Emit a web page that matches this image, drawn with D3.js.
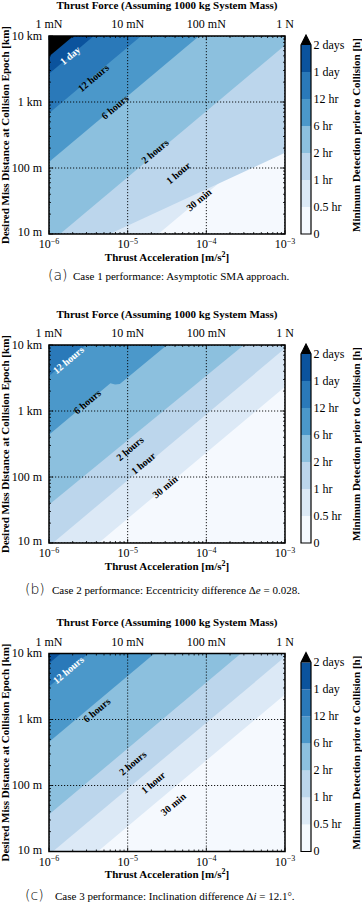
<!DOCTYPE html>
<html>
<head>
<meta charset="utf-8">
<script src="https://cdn.jsdelivr.net/npm/d3@7"></script>
<style>
  body { margin: 0; background: #fff; }
  svg { display: block; }
  text { font-family: "Liberation Serif", "DejaVu Serif", serif; fill: #000; }
</style>
</head>
<body>
<div id="chart"></div>
<script>
// ---- data ----
const accelTicks = [1e-6, 1e-5, 1e-4, 1e-3];
const accelExp = ["\u22126", "\u22125", "\u22124", "\u22123"];
const forceLabels = ["1 mN", "10 mN", "100 mN", "1 N"];
const distTicks = [10, 100, 1000, 10000];
const distLabels = ["10 m", "100 m", "1 km", "10 km"];

const levelHours = [0, 0.5, 1, 2, 6, 12, 24, 48];
const levelLabels = ["0", "0.5 hr", "1 hr", "2 hr", "6 hr", "12 hr", "1 day", "2 days"];
const bandColors = ["#f5f9fe", "#dce9f6", "#bcd6ec", "#8cc0de", "#4b98ca", "#2a79b9", "#0b539d"];
const overColor = "#000000";

// contour boundaries: level (h) -> polyline of [acceleration m/s^2, distance m]
const case1Bounds = [
    [0.5, [[2.45e-5, 10], [1e-3, 407]]],
    [1,   [[5.9e-6, 10], [1e-3, 170]]],
    [2,   [[1.38e-6, 10], [1e-3, 7240]]],
    [6,   [[1e-6, 123], [8.1e-5, 10000]]],
    [12,  [[1e-6, 676], [1.48e-5, 10000]]],
    [24,  [[1e-6, 2690], [3.7e-6, 10000]]],
    [48,  [[1e-6, 4900], [2.04e-6, 10000]]]
];
const case2Bounds = [
    [0.5, [[4.27e-6, 10], [1e-3, 2340]]],
    [1,   [[1.12e-6, 10], [1e-3, 8910]]],
    [2,   [[1e-6, 38], [3.0e-4, 10000]]],
    [6,   [[1e-6, 437], [6.03e-6, 2630], [6.92e-6, 2510], [7.94e-6, 2570], [3.16e-5, 10000]]],
    [12,  [[1e-6, 3390], [2.95e-6, 10000]]]
];
const case3Bounds = [
    [0.5, [[4.17e-6, 10], [1e-3, 2400]]],
    [1,   [[1.12e-6, 10], [1e-3, 8910]]],
    [2,   [[1e-6, 36.3], [2.75e-4, 10000]]],
    [6,   [[1e-6, 457], [2.19e-5, 10000]]],
    [12,  [[1e-6, 3160], [3.16e-6, 10000]]],
    [24,  [[1e-6, 7080], [1.41e-6, 10000]]]
];

// inline contour labels: text, acceleration, distance, white?
const case1Labels = [
    ["1 day", 1.85e-6, 5070, true],
    ["12 hours", 3.66e-6, 2310, false],
    ["6 hours", 6.9e-6, 840, false],
    ["2 hours", 2.22e-5, 179, false],
    ["1 hour", 4.4e-5, 84, false],
    ["30 min", 8.05e-5, 33, false]
];
const case2Labels = [
    ["12 hours", 1.76e-6, 5930, true],
    ["6 hours", 3.07e-6, 1380, false],
    ["2 hours", 1.07e-5, 270, false],
    ["1 hour", 1.58e-5, 161, false],
    ["30 min", 2.98e-5, 71, false]
];
const case3Labels = [
    ["12 hours", 1.76e-6, 5650, true],
    ["6 hours", 4.04e-6, 1390, false],
    ["2 hours", 1.16e-5, 219, false],
    ["1 hour", 2.11e-5, 111, false],
    ["30 min", 3.8e-5, 52, false]
];

const captions = [
    ["(a)", [["Case 1 performance: Asymptotic SMA approach.", false]]],
    ["(b)", [["Case 2 performance: Eccentricity difference \u0394", false], ["e", true], [" = 0.028.", false]]],
    ["(c)", [["Case 3 performance: Inclination difference \u0394", false], ["i", true], [" = 12.1\u00b0.", false]]]
];

// ---- layout ----
let win_width = 362, win_height = 907;
let panelTop = [0, 309, 617.5];
let captionY = [280, 594, 900];
let captionX = [[48, 73], [25, 52], [25, 55]];
let margin = {top: 36, left: 49};
let width = 236, height = 198;

let svg = d3.select("#chart")
    .append("svg")
    .attr("width", win_width)
    .attr("height", win_height);

let x = d3.scaleLog().domain([1e-6, 1e-3]).range([0, width]);
let y = d3.scaleLog().domain([10, 1e4]).range([height, 0]);

function drawPanel(p, bounds, labels) {
    let root = svg.append("g").attr("transform", "translate(0," + panelTop[p] + ")");
    let g = root.append("g").attr("transform", "translate(" + margin.left + "," + margin.top + ")");

    let clipId = "clip" + p;
    g.append("clipPath").attr("id", clipId)
        .append("rect").attr("width", width).attr("height", height);

    let plot = g.append("g").attr("clip-path", "url(#" + clipId + ")");

    // base band
    plot.append("rect").attr("width", width).attr("height", height).attr("fill", bandColors[0]);

    // filled regions above each contour level
    let line = d3.line().x(d => x(d[0])).y(d => y(d[1]));
    bounds.forEach(function(b) {
        let lvl = levelHours.indexOf(b[0]);
        let pts = b[1];
        let first = pts[0], last = pts[pts.length - 1];
        let poly = pts.concat([[last[0], 1e7], [1e-9, 1e7], [1e-9, first[1]]]);
        plot.append("path")
            .attr("d", line(poly) + "Z")
            .attr("fill", lvl < bandColors.length ? bandColors[lvl] : overColor);
    });

    // grid
    plot.selectAll(".vgrid")
        .data(accelTicks)
        .join("line")
        .attr("x1", d => x(d)).attr("x2", d => x(d))
        .attr("y1", 0).attr("y2", height)
        .attr("stroke", "#000").attr("stroke-width", 0.9)
        .attr("stroke-dasharray", "1.2,1.8");
    plot.selectAll(".hgrid")
        .data(distTicks)
        .join("line")
        .attr("y1", d => y(d)).attr("y2", d => y(d))
        .attr("x1", 0).attr("x2", width)
        .attr("stroke", "#000").attr("stroke-width", 0.9)
        .attr("stroke-dasharray", "1.2,1.8");

    // contour labels
    let angle = Math.atan2(y(1e3) - y(10), x(1e-4) - x(1e-6)) * 180 / Math.PI;
    plot.selectAll(".clabel")
        .data(labels)
        .join("text")
        .attr("transform", d => "translate(" + x(d[1]) + "," + y(d[2]) + ") rotate(" + angle + ")")
        .attr("text-anchor", "middle")
        .attr("dy", "0.35em")
        .style("font-size", "10px")
        .style("font-weight", "bold")
        .style("fill", d => d[3] ? "#fff" : "#000")
        .text(d => d[0]);

    // minor + major ticks, inside, on all four sides
    let minorA = [], minorD = [];
    for (let e = -6; e < -3; e++) for (let m = 2; m < 10; m++) minorA.push(m * Math.pow(10, e));
    for (let e = 1; e < 4; e++) for (let m = 2; m < 10; m++) minorD.push(m * Math.pow(10, e));
    let ticks = g.append("g").attr("stroke", "#000").attr("stroke-width", 0.8);
    [[minorA, 2], [accelTicks, 4]].forEach(function(t) {
        ticks.selectAll(null).data(t[0]).join("line")
            .attr("x1", d => x(d)).attr("x2", d => x(d)).attr("y1", height).attr("y2", height - t[1]);
        ticks.selectAll(null).data(t[0]).join("line")
            .attr("x1", d => x(d)).attr("x2", d => x(d)).attr("y1", 0).attr("y2", t[1]);
    });
    [[minorD, 2], [distTicks, 4]].forEach(function(t) {
        ticks.selectAll(null).data(t[0]).join("line")
            .attr("y1", d => y(d)).attr("y2", d => y(d)).attr("x1", 0).attr("x2", t[1]);
        ticks.selectAll(null).data(t[0]).join("line")
            .attr("y1", d => y(d)).attr("y2", d => y(d)).attr("x1", width).attr("x2", width - t[1]);
    });

    // frame
    g.append("rect").attr("width", width).attr("height", height)
        .attr("fill", "none").attr("stroke", "#000").attr("stroke-width", 1.5);

    // bottom tick labels 10^n
    let xl = g.selectAll(".xtl").data(accelTicks).join("text")
        .attr("x", d => x(d)).attr("y", height + 14)
        .attr("text-anchor", "middle")
        .style("font-size", "12px");
    xl.append("tspan").text("10");
    xl.append("tspan").attr("dy", -4.5).style("font-size", "8px").text((d, i) => accelExp[i]);

    // top tick labels (force)
    g.selectAll(".ftl").data(accelTicks).join("text")
        .attr("x", d => x(d)).attr("y", -8)
        .attr("text-anchor", "middle")
        .style("font-size", "12px")
        .text((d, i) => forceLabels[i]);

    // left tick labels
    g.selectAll(".ytl").data(distTicks).join("text")
        .attr("x", -7).attr("y", d => y(d) - (d === 10 ? 1.5 : 0)).attr("dy", "0.33em")
        .attr("text-anchor", "end")
        .style("font-size", "12px")
        .text((d, i) => distLabels[i]);

    // axis titles
    g.append("text").attr("x", width / 2).attr("y", -27.5)
        .attr("text-anchor", "middle").style("font-size", "11px").style("font-weight", "bold")
        .text("Thrust Force (Assuming 1000 kg System Mass)");
    let xt = g.append("text").attr("x", width / 2).attr("y", height + 26.5)
        .attr("text-anchor", "middle").style("font-size", "11px").style("font-weight", "bold");
    xt.append("tspan").text("Thrust Acceleration [m/s");
    xt.append("tspan").attr("dy", -4).style("font-size", "8px").text("2");
    xt.append("tspan").attr("dy", 4).text("]");
    root.append("text")
        .attr("transform", "translate(9," + (margin.top + height / 2) + ") rotate(-90)")
        .attr("text-anchor", "middle").style("font-size", "11px").style("font-weight", "bold")
        .text("Desired Miss Distance at Collision Epoch [km]");

    // colorbar
    let cbX = 301, cbW = 10;
    let cy = d3.scaleLinear().domain([0, levelHours.length - 1]).range([234, 45]);
    let cb = root.append("g");
    cb.selectAll("rect").data(bandColors).join("rect")
        .attr("x", cbX).attr("width", cbW)
        .attr("y", (d, i) => cy(i + 1)).attr("height", (d, i) => cy(i) - cy(i + 1))
        .attr("fill", d => d);
    cb.append("path")
        .attr("d", "M" + cbX + "," + cy(7) + "L" + (cbX + cbW / 2) + "," + (cy(7) - 10) + "L" + (cbX + cbW) + "," + cy(7) + "Z")
        .attr("fill", overColor);
    cb.append("path")
        .attr("d", "M" + cbX + "," + cy(7) + "L" + (cbX + cbW / 2) + "," + (cy(7) - 10) + "L" + (cbX + cbW) + "," + cy(7) +
            "L" + (cbX + cbW) + "," + cy(0) + "L" + cbX + "," + cy(0) + "Z")
        .attr("fill", "none").attr("stroke", "#000").attr("stroke-width", 1.2);
    cb.selectAll(".cbt").data(levelLabels).join("text")
        .attr("x", cbX + cbW + 2.5).attr("y", (d, i) => cy(i)).attr("dy", "0.33em")
        .style("font-size", "12px")
        .text(d => d);
    root.append("text")
        .attr("transform", "translate(360," + (margin.top + height / 2) + ") rotate(-90)")
        .attr("text-anchor", "middle").style("font-size", "11px").style("font-weight", "bold")
        .text("Minimum Detection prior to Collision [h]");

    // caption
    let cap = captions[p];
    svg.append("text").attr("x", captionX[p][0]).attr("y", captionY[p])
        .style("font-size", "14px").style("font-family", "'DejaVu Sans', sans-serif").style("font-weight", "300")
        .text(cap[0]);
    let ct = svg.append("text").attr("x", captionX[p][1]).attr("y", captionY[p])
        .style("font-size", "11px");
    cap[1].forEach(function(s) {
        ct.append("tspan").style("font-style", s[1] ? "italic" : "normal").text(s[0]);
    });
}

drawPanel(0, case1Bounds, case1Labels);
drawPanel(1, case2Bounds, case2Labels);
drawPanel(2, case3Bounds, case3Labels);
</script>
</body>
</html>
